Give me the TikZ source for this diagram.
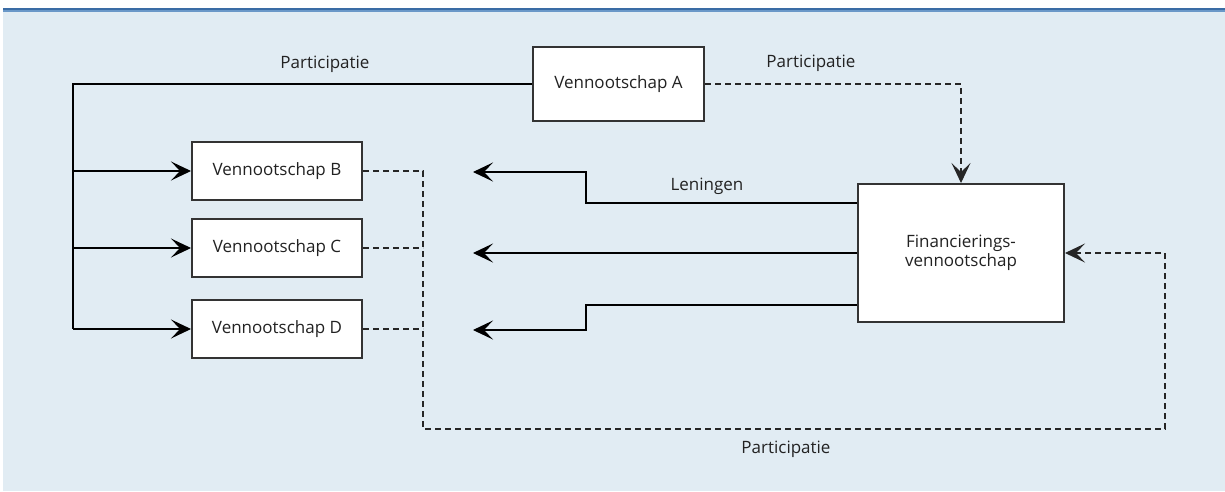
\documentclass[tikz,border=0pt]{standalone}
\usepackage{fontspec}
\setmainfont{Open Sans}
\usetikzlibrary{arrows.meta}
\definecolor{bgblue}{HTML}{E1ECF3}
\definecolor{topblue}{HTML}{3A6CA5}
\definecolor{topblue2}{HTML}{6A98C8}
\definecolor{ink}{HTML}{222222}
\definecolor{edge}{HTML}{333333}
\begin{document}
\begin{tikzpicture}[x=1pt,y=-1pt,
  box/.style={draw=edge,fill=white,line width=2pt,inner sep=0pt,font=\fontsize{17}{21}\selectfont,text=ink,align=center},
  lbl/.style={font=\fontsize{17}{21}\selectfont,text=ink,inner sep=0pt},
  conn/.style={draw=black,line width=2pt},
  dsh/.style={draw=black!85,line width=2pt,dash pattern=on 6pt off 4pt},
  arr/.style={-{Stealth[length=20pt,width=19pt,inset=9pt,line width=1pt]}}]
\useasboundingbox (0,0) rectangle (1225,491);
\fill[white] (0,0) rectangle (1225,491);
\fill[bgblue] (3,11) rectangle (1225,491);
\fill[topblue] (3,8) rectangle (1225,10);
\fill[topblue2] (3,10) rectangle (1225,12);
% boxes
\node[box,minimum width=171pt,minimum height=74pt] (A) at (618.5,84) {Vennootschap A};
\node[box,minimum width=170pt,minimum height=58pt] (B) at (277,171) {Vennootschap B};
\node[box,minimum width=170pt,minimum height=58pt] (C) at (277,248) {Vennootschap C};
\node[box,minimum width=170pt,minimum height=58pt] (D) at (277,329) {Vennootschap D};
\node[box,minimum width=206pt,minimum height=138pt] (F) at (961,253) {Financierings-\\[-2pt]vennootschap};
% coordinates
\coordinate (tl) at (73,84);
\coordinate (bl) at (73,329);
\coordinate (dB) at (423,171);
\coordinate (dbot) at (423,429);
\coordinate (dr) at (1165,429);
\coordinate (k1) at (586,203);
\coordinate (k1b) at (586,172);
\coordinate (t1) at (473,172);
\coordinate (t2) at (473,253);
\coordinate (k3) at (586,305);
\coordinate (k3b) at (586,330);
\coordinate (t3) at (473,330);
% solid participation
\draw[conn] (A.west) -- (tl) -- (bl);
\draw[conn,arr] (tl |- B.west) -- (B.west);
\draw[conn,arr] (tl |- C.west) -- (C.west);
\draw[conn,arr] (tl |- D.west) -- (D.west);
% dashed participations
\draw[dsh,arr] (A.east) -| (F.north);
\draw[dsh] (C.east) -- (dB |- C.east);
\draw[dsh] (D.east) -- (dB |- D.east);
\draw[dsh,arr] (B.east) -- (dB) -- (dbot) -- (dr) |- (F.east);
% loans
\draw[conn,arr] ([yshift=50pt]F.west) -- (k1) -- (k1b) -- (t1);
\draw[conn,arr] (F.west) -- (t2);
\draw[conn,arr] ([yshift=-52pt]F.west) -- (k3) -- (k3b) -- (t3);
% labels
\node[lbl] (p1) at (325,64) {Participatie};
\node[lbl] (p2) at (811,63) {Participatie};
\node[lbl] (len) at (707,186) {Leningen};
\node[lbl] (p3) at (786,449) {Participatie};
\end{tikzpicture}
\end{document}
